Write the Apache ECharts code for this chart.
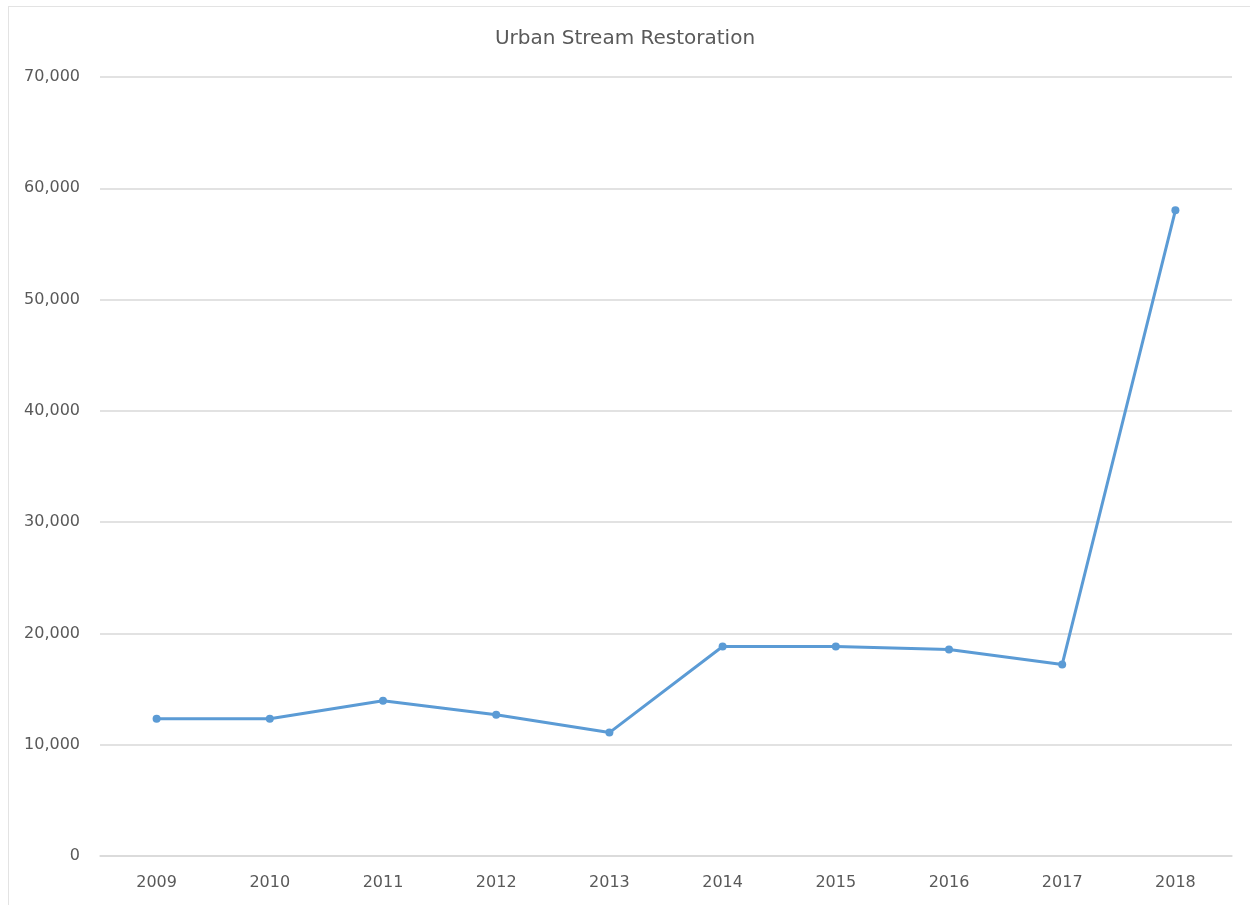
<!DOCTYPE html>
<html>
<head>
<meta charset="utf-8">
<script src="https://cdn.jsdelivr.net/npm/echarts@6/dist/echarts.min.js"></script>
<style>
  html, body { margin: 0; padding: 0; background: #fff; }
  #frame { position: absolute; left: 8px; top: 6px; width: 1242px; height: 899px; border-left: 1px solid #e3e3e3; border-top: 1px solid #e3e3e3; box-sizing: border-box; }
  #chart { width: 1250px; height: 905px; position: absolute; left: 0; top: 0; }
</style>
</head>
<body>
<div id="frame"></div>
<div id="chart"></div>
<script>
// 数据
const years = ["2009", "2010", "2011", "2012", "2013", "2014", "2015", "2016", "2017", "2018"];
const restoration = [12330, 12330, 13960, 12690, 11090, 18820, 18820, 18550, 17210, 58020];

const chart = echarts.init(document.getElementById("chart"), null, { renderer: "canvas" });

const labelFont = { color: "#595959", fontSize: 16, fontFamily: "DejaVu Sans, sans-serif" };

chart.setOption({
  animation: false,
  backgroundColor: "transparent",
  title: {
    text: "Urban Stream Restoration",
    left: "center",
    top: 24,
    textStyle: { color: "#595959", fontSize: 20, fontWeight: "normal", fontFamily: "DejaVu Sans, sans-serif" },
  },
  grid: { left: 100, right: 18, top: 77, bottom: 49 },
  xAxis: {
    type: "category",
    data: years,
    boundaryGap: true,
    axisLine: { lineStyle: { color: "#d9d9d9", width: 1.5 } },
    axisTick: { show: false },
    axisLabel: { ...labelFont, margin: 19 },
  },
  yAxis: {
    type: "value",
    min: 0,
    max: 70000,
    interval: 10000,
    axisLine: { show: false },
    axisTick: { show: false },
    axisLabel: {
      ...labelFont,
      margin: 20,
      formatter: (v) => v.toLocaleString("en-US"),
    },
    splitLine: { lineStyle: { color: "#d9d9d9", width: 1.5 } },
  },
  series: [
    {
      type: "line",
      data: restoration,
      symbol: "circle",
      symbolSize: 8,
      lineStyle: { color: "#5b9bd5", width: 3 },
      itemStyle: { color: "#5b9bd5" },
    },
  ],
});
</script>
</body>
</html>
